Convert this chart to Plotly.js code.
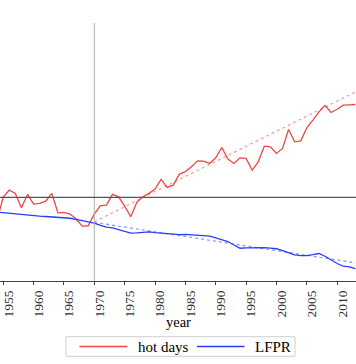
<!DOCTYPE html>
<html>
<head>
<meta charset="utf-8">
<script src="https://cdn.plot.ly/plotly-3.0.1.min.js"></script>
<style>html,body{margin:0;padding:0;background:#fff;}#chart{width:356px;height:364px;}</style>
</head>
<body>
<div id="chart"></div>
<script>
var years = [];
for (var y = 1954; y <= 2013; y++) years.push(y);

var hotDays = [-2.27, 0.03, 0.73, 0.40, -1.04, 0.30, -0.67, -0.60, -0.37, 0.40,
  -1.54, -1.50, -1.67, -2.17, -2.87, -2.84, -1.67, -0.82, -0.77, 0.30,
  0.06, -0.87, -1.94, -0.50, 0.06, 0.40, 0.83, 1.80, 1.00, 1.23,
  2.33, 2.58, 3.06, 3.66, 3.63, 3.40, 3.96, 5.00, 3.83, 3.40,
  3.96, 3.90, 2.73, 3.56, 5.13, 5.06, 4.40, 4.90, 6.80, 5.56,
  5.66, 6.96, 7.73, 8.56, 9.20, 8.50, 8.83, 9.23, 9.26, 9.30];

var lfpr = [-1.47, -1.53, -1.62, -1.70, -1.75, -1.79, -1.84, -1.87, -1.91, -1.95,
  -1.98, -2.02, -2.09, -2.21, -2.32, -2.44, -2.57, -2.79, -2.97, -3.05,
  -3.20, -3.39, -3.57, -3.55, -3.50, -3.45, -3.53, -3.59, -3.66, -3.72,
  -3.73, -3.71, -3.76, -3.82, -3.87, -3.88, -4.05, -4.23, -4.42, -4.77,
  -5.09, -5.06, -5.03, -5.00, -5.02, -5.07, -5.14, -5.33, -5.54, -5.76,
  -5.82, -5.83, -5.74, -5.62, -5.89, -6.25, -6.62, -6.89, -6.96, -7.12];

var trendYears = [1970, 2013];
var hotTrend = [-2.44, 10.55];
var lfprTrend = [-2.50, -6.55];

var tickYears = [1955, 1960, 1965, 1970, 1975, 1980, 1985, 1990, 1995, 2000, 2005, 2010];
var tickText = tickYears.map(String);
var seriesNames = ['hot days', 'LFPR'];

var RED = 'rgb(240,70,70)';
var BLUE = 'rgb(40,60,250)';
var SERIF = 'Liberation Serif, Times New Roman, serif';

// plot area geometry in px (for paper-coordinate decorations)
var W = 356, H = 364, T = 23, B = 83;
var PH = H - T - B;
function px2x(px) { return px / W; }
function py2y(py) { return (H - B - py) / PH; }

var traces = [
  {x: trendYears, y: hotTrend, type: 'scatter', mode: 'lines', showlegend: false,
   line: {color: 'rgba(240,70,70,0.55)', width: 1.2, dash: '3px,3px'}, hoverinfo: 'skip'},
  {x: trendYears, y: lfprTrend, type: 'scatter', mode: 'lines', showlegend: false,
   line: {color: 'rgba(40,60,250,0.55)', width: 1.2, dash: '3px,3px'}, hoverinfo: 'skip'},
  {x: years, y: hotDays, type: 'scatter', mode: 'lines', name: seriesNames[0], showlegend: false,
   line: {color: RED, width: 1.3}},
  {x: years, y: lfpr, type: 'scatter', mode: 'lines', name: seriesNames[1], showlegend: false,
   line: {color: BLUE, width: 1.3}}
];

var legY = 346.5;
var layout = {
  width: W, height: H,
  margin: {l: 0, r: 0, t: T, b: B, pad: 0},
  paper_bgcolor: '#fff', plot_bgcolor: '#fff',
  font: {family: SERIF, color: '#000', size: 12},
  showlegend: false,
  xaxis: {
    range: [1954.47, 2013.1], tickmode: 'array', tickvals: tickYears, ticktext: tickText,
    tickangle: -90, ticks: 'outside', ticklen: 3, tickcolor: '#444',
    showline: true, linecolor: '#444', linewidth: 1, showgrid: false, zeroline: false,
    tickfont: {family: SERIF, size: 13.5, color: '#333'},
    ticklabelshift: 5, automargin: false
  },
  yaxis: {
    range: [-8.37, 17.46], showticklabels: false, showgrid: false, zeroline: false,
    showline: false, ticks: '', automargin: false
  },
  shapes: [
    {type: 'line', xref: 'x', yref: 'paper', x0: 1970, x1: 1970, y0: 0, y1: 1,
     line: {color: '#b0b0b0', width: 1}},
    {type: 'line', xref: 'paper', yref: 'y', x0: 0, x1: 1, y0: 0, y1: 0,
     line: {color: '#555', width: 1.2}},
    // legend box
    {type: 'rect', xref: 'paper', yref: 'paper', x0: px2x(66), x1: px2x(295),
     y0: py2y(336.7), y1: py2y(356.3), line: {color: '#cfcfcf', width: 1}, fillcolor: '#fff'},
    {type: 'line', xref: 'paper', yref: 'paper', x0: px2x(79.5), x1: px2x(127.5),
     y0: py2y(legY), y1: py2y(legY), line: {color: RED, width: 1.3}},
    {type: 'line', xref: 'paper', yref: 'paper', x0: px2x(197), x1: px2x(244.5),
     y0: py2y(legY), y1: py2y(legY), line: {color: BLUE, width: 1.3}}
  ],
  annotations: [
    {xref: 'paper', yref: 'paper', x: 0.5, y: py2y(321.5), xanchor: 'center', yanchor: 'middle',
     text: 'year', showarrow: false, font: {family: SERIF, size: 14.5, color: '#000'}},
    {xref: 'paper', yref: 'paper', x: px2x(136), y: py2y(legY), xanchor: 'left', yanchor: 'middle',
     text: seriesNames[0], showarrow: false, font: {family: SERIF, size: 15, color: '#000'}},
    {xref: 'paper', yref: 'paper', x: px2x(252.5), y: py2y(legY), xanchor: 'left', yanchor: 'middle',
     text: seriesNames[1], showarrow: false, font: {family: SERIF, size: 15, color: '#000'}}
  ]
};

Plotly.newPlot('chart', traces, layout, {displayModeBar: false, staticPlot: true});
</script>
</body>
</html>
